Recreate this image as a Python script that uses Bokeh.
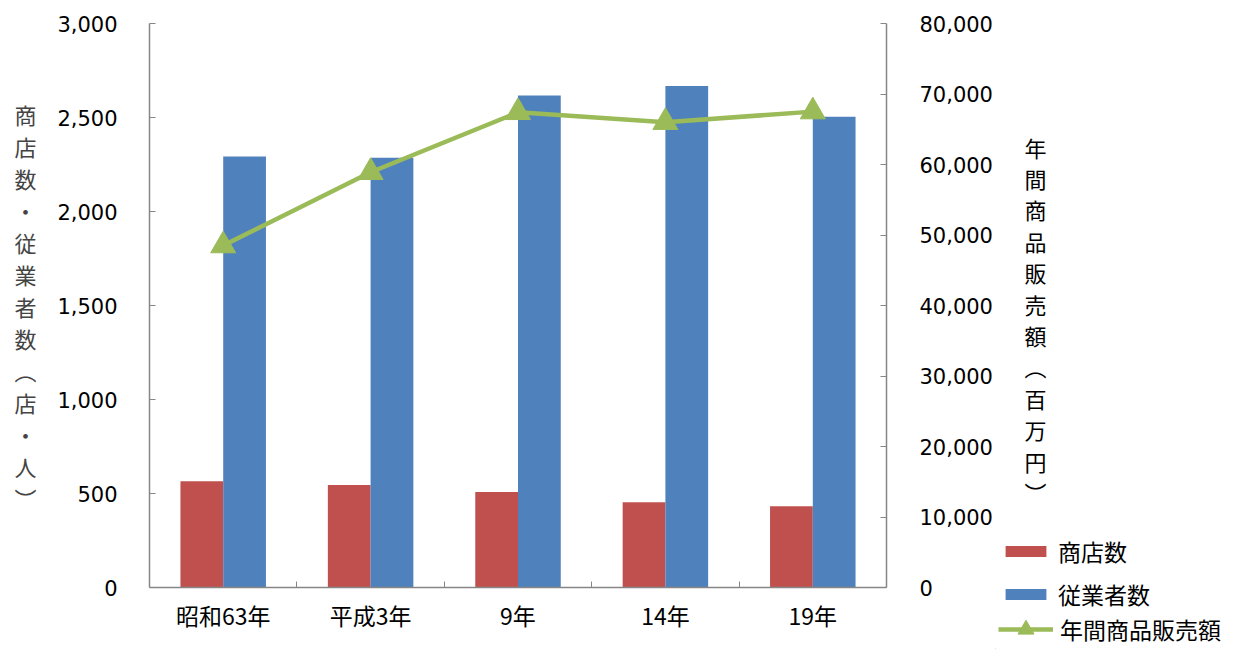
import numpy as np
from bokeh.plotting import figure
from bokeh.layouts import row
from bokeh.models import (Range1d, LinearAxis, FixedTicker, NumeralTickFormatter,
                          Legend, LegendItem, ColumnDataSource, Label)
from bokeh.transform import dodge
from bokeh.embed import file_html
from bokeh.resources import INLINE

# ---- data ----
categories = ["昭和63年", "平成3年", "9年", "14年", "19年"]
shops = [565, 545, 508, 453, 432]
employees = [2292, 2286, 2617, 2668, 2504]
sales = [48500, 58900, 67400, 66000, 67500]
left_ticks = [0, 500, 1000, 1500, 2000, 2500, 3000]
right_ticks = [0, 10000, 20000, 30000, 40000, 50000, 60000, 70000, 80000]
series_names = ["商店数", "従業者数", "年間商品販売額"]
left_title = "商店数・従業者数︵店・人︶"
right_title = "年間商品販売額︵百万円︶"

RED = "#C0504D"
BLUE = "#4F81BD"
GREEN = "#9BBB59"
AXIS = "#868686"
JP = "Noto Sans CJK JP"
NUM = "DejaVu Sans"
H = 649

pos = np.arange(len(categories)) + 0.5
src = ColumnDataSource(dict(x=pos, shops=shops, employees=employees, sales=sales))

p = figure(width=995, height=H, output_backend="svg", toolbar_location=None,
           x_range=Range1d(0, len(categories)), y_range=Range1d(0, 3000),
           min_border_left=149, min_border_right=106, min_border_top=23,
           min_border_bottom=62)
p.frame_align = False
p.extra_y_ranges = {"sales": Range1d(0, 80000)}
p.outline_line_color = None
p.xgrid.visible = False
p.ygrid.visible = False

r_shop = p.vbar(x=dodge("x", -0.145, range=p.x_range), top="shops", width=0.29,
                source=src, fill_color=RED, line_color=None)
r_emp = p.vbar(x=dodge("x", 0.145, range=p.x_range), top="employees", width=0.29,
               source=src, fill_color=BLUE, line_color=None)
r_line = p.line(x="x", y="sales", source=src, y_range_name="sales",
                line_color=GREEN, line_width=4.5)
r_pts = p.scatter(x="x", y="sales", source=src, y_range_name="sales",
                  marker="triangle", size=25, fill_color=GREEN, line_color=GREEN)

# ---- x axis ----
xa = p.xaxis[0]
xa.ticker = FixedTicker(ticks=list(pos), minor_ticks=list(range(1, len(categories))))
xa.major_label_overrides = {float(v): c for v, c in zip(pos, categories)}
xa.major_tick_in = 0
xa.major_tick_out = 0
xa.minor_tick_in = 6
xa.minor_tick_out = 0
xa.minor_tick_line_color = AXIS
xa.axis_line_color = AXIS
xa.axis_line_width = 1.5
xa.major_label_text_font = JP
xa.major_label_text_font_size = "23px"
xa.major_label_text_color = "#000000"
xa.major_label_standoff = 10

# ---- left axis ----
ya = p.yaxis[0]
ya.ticker = FixedTicker(ticks=left_ticks)
ya.formatter = NumeralTickFormatter(format="0,0")
ya.minor_tick_line_color = None
ya.major_tick_in = 6
ya.major_tick_out = 0
ya.major_tick_line_color = AXIS
ya.axis_line_color = AXIS
ya.axis_line_width = 1.5
ya.major_label_text_font = NUM
ya.major_label_text_font_size = "21px"
ya.major_label_text_color = "#000000"
ya.major_label_standoff = 32
ya.axis_label = "\n".join(left_title)
ya.axis_label_orientation = "horizontal"
ya.axis_label_text_font = JP
ya.axis_label_text_font_style = "normal"
ya.axis_label_text_font_size = "22px"
ya.axis_label_text_line_height = 1.0
ya.axis_label_text_align = "center"
ya.axis_label_standoff = 18

# ---- right axis ----
ra = LinearAxis(y_range_name="sales", ticker=FixedTicker(ticks=right_ticks),
                formatter=NumeralTickFormatter(format="0,0"))
ra.minor_tick_line_color = None
ra.major_tick_in = 6
ra.major_tick_out = 0
ra.major_tick_line_color = AXIS
ra.axis_line_color = AXIS
ra.axis_line_width = 1.5
ra.major_label_text_font = NUM
ra.major_label_text_font_size = "21px"
ra.major_label_text_color = "#000000"
ra.major_label_standoff = 33
p.add_layout(ra, "right")

# ---- side panel: right-axis title and legend ----
SW = 250
side = figure(width=SW, height=H, output_backend="svg", toolbar_location=None,
              x_range=Range1d(0, SW), y_range=Range1d(0, H),
              x_axis_type=None, y_axis_type=None, min_border=0)
side.frame_align = False
side.outline_line_color = None
side.xgrid.visible = False
side.ygrid.visible = False

title_top = 146
title_step = 31.4
for i, ch in enumerate(right_title):
    side.add_layout(Label(x=40, y=H - (title_top + i * title_step), text=ch,
                          text_font=JP, text_font_size="22px", text_color="#000000",
                          text_align="center", text_baseline="middle"))

# legend-only renderers, placed outside the visible range
off = [-1000]
d_shop = side.vbar(x=off, top=[1], width=1, fill_color=RED, line_color=None)
d_emp = side.vbar(x=off, top=[1], width=1, fill_color=BLUE, line_color=None)
d_line = side.line(x=off, y=[1], line_color=GREEN, line_width=4.5)
d_pts = side.scatter(x=off, y=[1], marker="triangle", fill_color=GREEN, line_color=GREEN)


def make_legend(item, loc, gw, gh):
    lg = Legend(items=[item], location=loc, orientation="vertical",
                border_line_color=None, background_fill_alpha=0,
                padding=0, margin=0, spacing=0,
                glyph_width=gw, glyph_height=gh, label_standoff=7,
                label_height=28,
                label_text_font=JP, label_text_font_size="23px",
                label_text_color="#000000")
    side.add_layout(lg)


make_legend(LegendItem(label=series_names[0], renderers=[d_shop]), (5, 81), 51, 14)
make_legend(LegendItem(label=series_names[1], renderers=[d_emp]), (5, 38), 51, 14)
make_legend(LegendItem(label=series_names[2], renderers=[d_line, d_pts]), (3, 0), 55, 40)

layout = row(p, side)
open("out.html", "w").write(file_html(layout, INLINE))
